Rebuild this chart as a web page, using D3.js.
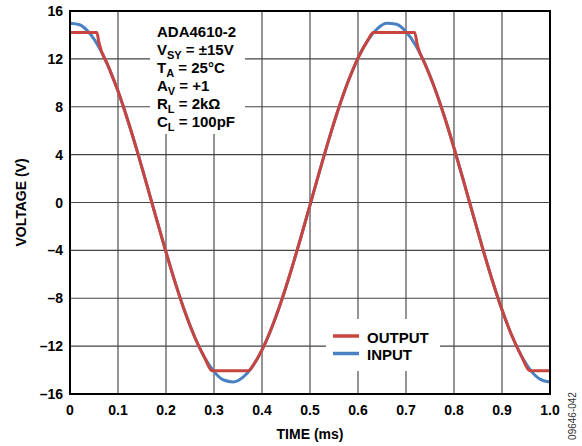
<!DOCTYPE html>
<html><head><meta charset="utf-8">
<script src="https://cdn.jsdelivr.net/npm/d3@7"></script>
<style>
body{margin:0;background:#fff}
svg text{font-family:"Liberation Sans",Arial,Helvetica,sans-serif;font-weight:bold;fill:#000}
</style>
</head><body>
<svg id="chart" width="582" height="446"></svg>
<script>
// ---- data ----
const inputTime = [0,0.02,0.04,0.06,0.08,0.10,0.12,0.14,0.16,0.18,0.20,0.22,0.24,0.26,0.28,0.30,0.32,0.34,0.36,0.38,0.40,0.42,0.44,0.46,0.48,0.50,0.52,0.54,0.56,0.58,0.60,0.62,0.64,0.66,0.68,0.70,0.72,0.74,0.76,0.78,0.80,0.82,0.84,0.86,0.88,0.90,0.92,0.94,0.96,0.98,1.0];
const inputVolts = [14.98,14.85,14.18,13.00,11.36,9.31,6.92,4.29,1.49,-1.35,-4.14,-6.80,-9.20,-11.26,-12.93,-14.13,-14.83,-14.99,-14.61,-13.71,-12.32,-10.48,-8.27,-5.76,-3.05,-0.22,2.62,5.36,7.91,10.17,12.07,13.53,14.51,14.97,14.89,14.27,13.14,11.54,9.53,7.18,4.56,1.78,-1.06,-3.87,-6.54,-8.97,-11.07,-12.79,-14.05,-14.78,-15.0];
const outputTime = [0,0.02,0.04,0.056,0.06,0.08,0.10,0.12,0.14,0.16,0.18,0.20,0.22,0.24,0.26,0.28,0.296,0.32,0.34,0.36,0.373,0.38,0.40,0.42,0.44,0.46,0.48,0.50,0.52,0.54,0.56,0.58,0.60,0.62,0.632,0.66,0.68,0.70,0.718,0.724,0.74,0.76,0.78,0.80,0.82,0.84,0.86,0.88,0.90,0.92,0.94,0.958,0.98,1.0];
const outputVolts = [14.2,14.2,14.2,14.2,13.4,11.36,9.31,6.92,4.29,1.49,-1.35,-4.14,-6.80,-9.20,-11.26,-12.93,-14.05,-14.05,-14.05,-14.05,-14.05,-13.70,-12.32,-10.48,-8.27,-5.76,-3.05,-0.22,2.62,5.36,7.91,10.17,12.07,13.53,14.2,14.2,14.2,14.2,14.2,13.1,11.54,9.53,7.18,4.56,1.78,-1.06,-3.87,-6.54,-8.97,-11.07,-12.79,-14.05,-14.05,-14.05];
const xTicks = [0,0.1,0.2,0.3,0.4,0.5,0.6,0.7,0.8,0.9,1.0];
const xTickLabels = ["0","0.1","0.2","0.3","0.4","0.5","0.6","0.7","0.8","0.9","1.0"];
const yTicks = [16,12,8,4,0,-4,-8,-12,-16];
const yTickLabels = ["16","12","8","4","0","–4","–8","–12","–16"];
const seriesNames = ["OUTPUT","INPUT"];
const seriesColors = ["#c8443f","#4a80c4"];
const noteLines = [["ADA4610-2",""],["V","SY"," = ±15V"],["T","A"," = 25°C"],["A","V"," = +1"],["R","L"," = 2kΩ"],["C","L"," = 100pF"]];

// ---- layout ----
const svg = d3.select("#chart");
const L = 70, R = 550, T = 11, B = 394;
const x = d3.scaleLinear().domain([0,1]).range([L,R]);
const y = d3.scaleLinear().domain([-16,16]).range([B,T]);

// grid
const grid = svg.append("g");
grid.selectAll("line.v").data(xTicks.slice(1,-1)).join("line")
  .attr("x1",d=>x(d)).attr("x2",d=>x(d)).attr("y1",T).attr("y2",B)
  .attr("stroke","#666").attr("stroke-width",1.4);
grid.selectAll("line.h").data(yTicks.slice(1,-1)).join("line")
  .attr("y1",d=>y(d)).attr("y2",d=>y(d)).attr("x1",L).attr("x2",R)
  .attr("stroke","#444").attr("stroke-width",1.2);

// masks (annotation + legend)
svg.append("rect").attr("x",150).attr("y",T+1).attr("width",95).attr("height",122).attr("fill","#fff");
svg.append("rect").attr("x",326).attr("y",319).attr("width",114).attr("height",52).attr("fill","#fff");

// curves
const line = d3.line().x(d=>x(d[0])).y(d=>y(d[1])).curve(d3.curveMonotoneX);
const inData = inputTime.map((t,i)=>[t,inputVolts[i]]);
const outData = outputTime.map((t,i)=>[t,outputVolts[i]]);
svg.append("path").datum(inData).attr("d",line).attr("fill","none")
  .attr("stroke",seriesColors[1]).attr("stroke-width",3);
svg.append("path").datum(outData).attr("d",line).attr("fill","none")
  .attr("stroke",seriesColors[0]).attr("stroke-width",3);

// border
svg.append("rect").attr("x",L).attr("y",T).attr("width",R-L).attr("height",B-T)
  .attr("fill","none").attr("stroke","#000").attr("stroke-width",2);

// axes labels
svg.selectAll("text.yt").data(yTicks).join("text")
  .attr("x",L-7).attr("y",d=>y(d)).attr("dy","0.36em").attr("text-anchor","end")
  .attr("font-size",14).text((d,i)=>yTickLabels[i]);
svg.selectAll("text.xt").data(xTicks).join("text")
  .attr("x",d=>x(d)).attr("y",415).attr("text-anchor","middle")
  .attr("font-size",14).text((d,i)=>xTickLabels[i]);
svg.append("text").attr("x",(L+R)/2).attr("y",439).attr("text-anchor","middle")
  .attr("font-size",14).text("TIME (ms)");
svg.append("text").attr("transform",`translate(26,${(T+B)/2}) rotate(-90)`)
  .attr("text-anchor","middle").attr("font-size",14).text("VOLTAGE (V)");

// annotation
const note = svg.append("g");
noteLines.forEach((ln,i)=>{
  const t = note.append("text").attr("x",157).attr("y",37+i*18).attr("font-size",15);
  if (ln.length===2) { t.text(ln[0]); return; }
  t.append("tspan").text(ln[0]);
  t.append("tspan").attr("dy",4).attr("font-size",11).text(ln[1]);
  t.append("tspan").attr("dy",-4).text(ln[2]);
});

// legend
const lg = svg.append("g");
[0,1].forEach(i=>{
  const yy = 336 + i*17.5;
  lg.append("line").attr("x1",333).attr("x2",359).attr("y1",yy).attr("y2",yy)
    .attr("stroke",seriesColors[i]).attr("stroke-width",3.5);
  lg.append("text").attr("x",367).attr("y",yy+6.5).attr("font-size",15).text(seriesNames[i]);
});

// figure id
svg.append("text").attr("transform","translate(576,416) rotate(-90)")
  .attr("text-anchor","middle").attr("font-size",10)
  .style("font-weight","normal").style("fill","#333").text("09646-042");
</script>
</body></html>
